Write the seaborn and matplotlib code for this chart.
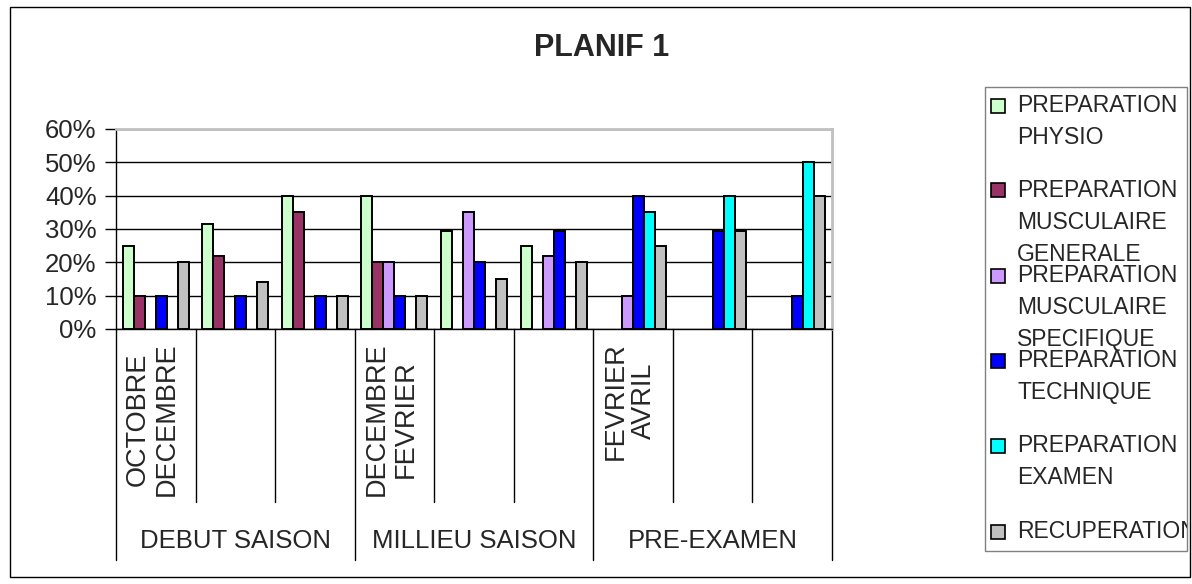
import matplotlib
matplotlib.use("Agg")
import matplotlib.pyplot as plt
import pandas as pd
import seaborn as sns
from matplotlib.patches import Rectangle
from matplotlib.lines import Line2D
from matplotlib.transforms import blended_transform_factory, Bbox, TransformedBbox
from matplotlib.ticker import FuncFormatter, MultipleLocator

# Training periods (x categories) and their labels
periods = ["P1", "P2", "P3", "P4", "P5", "P6", "P7", "P8", "P9"]
period_labels = ["OCTOBRE\nDECEMBRE", "", "", "DECEMBRE\nFEVRIER", "", "",
                 "FEVRIER\nAVRIL", "", ""]
phases = ["DEBUT SAISON", "MILLIEU SAISON", "PRE-EXAMEN"]

# Training components (series)
series = ["PREPARATION PHYSIO", "PREPARATION MUSCULAIRE GENERALE",
          "PREPARATION MUSCULAIRE SPECIFIQUE", "PREPARATION TECHNIQUE",
          "PREPARATION EXAMEN", "RECUPERATION"]
series_labels = [["PREPARATION", "PHYSIO"],
                 ["PREPARATION", "MUSCULAIRE", "GENERALE"],
                 ["PREPARATION", "MUSCULAIRE", "SPECIFIQUE"],
                 ["PREPARATION", "TECHNIQUE"],
                 ["PREPARATION", "EXAMEN"],
                 ["RECUPERATION"]]
colors = ["#CCFFCC", "#993366", "#CC99FF", "#0000FF", "#00FFFF", "#C0C0C0"]

# Share of each component per period (%)
physio = [25, 31.5, 40, 40, 29.5, 25, 0, 0, 0]
musc_generale = [10, 22, 35, 20, 0, 0, 0, 0, 0]
musc_specifique = [0, 0, 0, 20, 35, 22, 10, 0, 0]
technique = [10, 10, 10, 10, 20, 29.5, 40, 29.5, 10]
examen = [0, 0, 0, 0, 0, 0, 35, 40, 50]
recuperation = [20, 14, 10, 10, 15, 20, 25, 29.5, 40]

values = [physio, musc_generale, musc_specifique, technique, examen, recuperation]
rows = []
for name, vals in zip(series, values):
    for p, v in zip(periods, vals):
        rows.append({"period": p, "series": name, "value": v})
df = pd.DataFrame(rows)
# empty components get no bar (their slot stays reserved through hue_order)
df_bars = df[df["value"] > 0]

sns.set_style("white")
plt.rcParams["font.family"] = ["Liberation Sans", "DejaVu Sans"]

W, H = 1192, 584
fig = plt.figure(figsize=(W / 100, H / 100), dpi=100)


def fx(x):
    return x / W


def fy(y):
    return 1 - y / H


# Outer chart border
fig.add_artist(Rectangle((fx(10), fy(577)), fx(1190) - fx(10), fy(7) - fy(577),
                         transform=fig.transFigure, fill=False,
                         edgecolor="black", lw=1, zorder=0))

ax = fig.add_axes([fx(116), fy(329), fx(832) - fx(116), fy(129) - fy(329)])
sns.barplot(data=df_bars, x="period", y="value", hue="series", order=periods,
            hue_order=series, palette=dict(zip(series, colors)), saturation=1,
            width=0.83, edgecolor="black", linewidth=1.4, errorbar=None,
            legend=False, ax=ax, zorder=3)

ax.set_xlim(-0.5, 8.5)
ax.set_ylim(0, 60)
ax.yaxis.set_major_locator(MultipleLocator(10))
ax.yaxis.set_major_formatter(FuncFormatter(lambda v, _: f"{int(round(v))}%"))
ax.set_axisbelow(True)
ax.grid(axis="y", color="black", lw=1)
ax.grid(axis="x", visible=False)
ax.set_xticks([])
ax.set_xlabel("")
ax.set_ylabel("")
for side in ("left", "bottom"):
    ax.spines[side].set_color("black")
    ax.spines[side].set_linewidth(1)
for side in ("top", "right"):
    ax.spines[side].set_color("#C0C0C0")
    ax.spines[side].set_linewidth(2)
ax.tick_params(axis="y", left=True, direction="out", length=8, width=1,
               color="black", labelsize=18.5, pad=6)

# Two-level category axis: period separators, period and phase labels
trans = blended_transform_factory(ax.transData, ax.transAxes)
for k in range(len(periods) + 1):
    x = k - 0.5
    y_end = -1.155 if k % 3 == 0 else -0.865
    ax.add_line(Line2D([x, x], [0, y_end], transform=trans, color="black",
                       lw=1, clip_on=False))
for k, lab in enumerate(period_labels):
    if lab:
        ax.text(k - 0.04, -0.065, lab, transform=trans, rotation=90, ha="center",
                va="top", multialignment="center", fontsize=19.5,
                linespacing=1.15)
for g, ph in enumerate(phases):
    ax.text(3 * g + 1, -1.095, ph, transform=trans, ha="center",
            va="baseline", fontsize=18.5)

# Title
fig.text(fx(602), fy(56), "PLANIF 1", ha="center", va="baseline",
         fontsize=22, fontweight="bold")

# Legend box
lx0, lx1, ly0, ly1 = 985, 1187, 87, 551
fig.add_artist(Rectangle((fx(lx0), fy(ly1)), fx(lx1) - fx(lx0), fy(ly0) - fy(ly1),
                         transform=fig.transFigure, facecolor="white",
                         edgecolor="#808080", lw=1, zorder=1))
clip = TransformedBbox(Bbox.from_extents(fx(lx0), fy(ly1), fx(lx1), fy(ly0)),
                       fig.transFigure)
line_centers = [103.5, 188.5, 273.5, 358.5, 443.5, 530]
line_pitch = 32
for lines, col, yc in zip(series_labels, colors, line_centers):
    fig.add_artist(Rectangle((fx(991), fy(yc + 9)), fx(1005) - fx(991), fy(yc - 5) - fy(yc + 9),
                             transform=fig.transFigure, facecolor=col,
                             edgecolor="black", lw=1.2, zorder=2))
    for i, line in enumerate(lines):
        t = fig.text(fx(1017), fy(yc + 8.5 + i * line_pitch), line, ha="left",
                     va="baseline", fontsize=16.5, zorder=2)
        t.set_clip_box(clip)
        t.set_clip_on(True)

fig.savefig("out.png", dpi=100)
